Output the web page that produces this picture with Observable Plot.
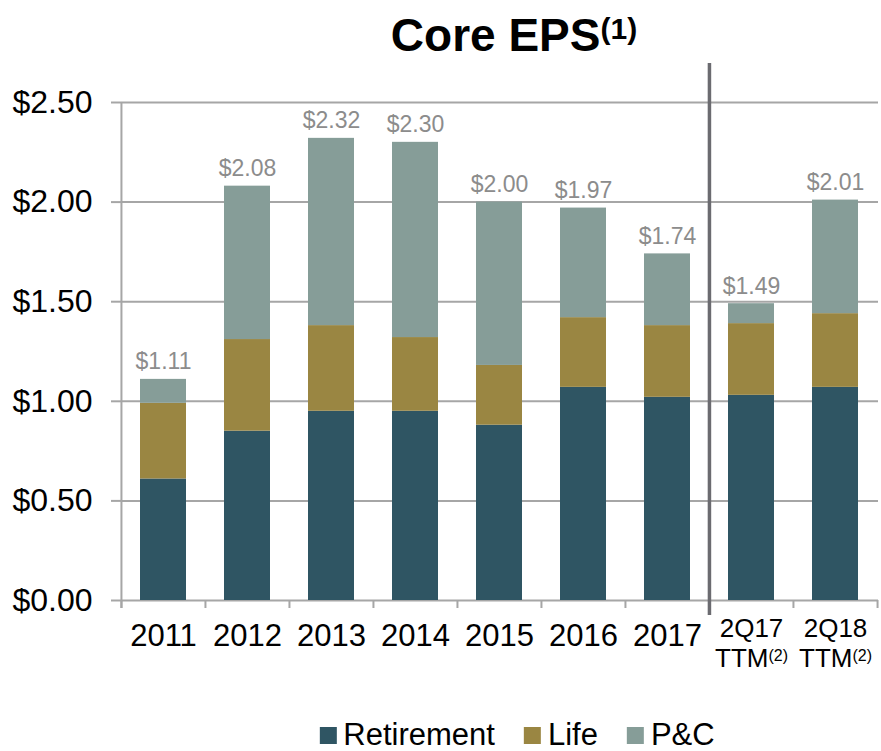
<!DOCTYPE html>
<html><head><meta charset="utf-8">
<script src="https://cdn.jsdelivr.net/npm/d3@7"></script>
<script src="https://cdn.jsdelivr.net/npm/@observablehq/plot@0.6"></script>
<style>
body{margin:0;background:#fff;font-family:"Liberation Sans",Arial,sans-serif;}
#wrap{position:relative;width:881px;height:751px;overflow:hidden;background:#fff;}
#title{position:absolute;top:8px;left:514px;transform:translateX(-50%);white-space:nowrap;font-weight:bold;font-size:46px;line-height:54px;color:#000;}
#title .sup{font-size:30px;vertical-align:12px;line-height:0;}
#chart{position:absolute;top:60px;left:0;}
#legend{position:absolute;top:718px;left:517px;transform:translateX(-50%);display:flex;white-space:nowrap;font-size:31px;line-height:34px;color:#000;}
.item{display:flex;align-items:center;margin:0 14.5px;}
.sw{width:17px;height:17px;margin-right:7px;}
</style></head>
<body>
<div id="wrap">
  <div id="title">Core EPS<span class="sup">(1)</span></div>
  <div id="chart"></div>
  <div id="legend"></div>
</div>
<script>
const categories = ["2011","2012","2013","2014","2015","2016","2017","2Q17 TTM(2)","2Q18 TTM(2)"];
const retirement = [0.61,0.85,0.95,0.95,0.88,1.07,1.02,1.03,1.07];
const life       = [0.38,0.46,0.43,0.37,0.30,0.35,0.36,0.36,0.37];
const pc         = [0.12,0.77,0.94,0.98,0.82,0.55,0.36,0.10,0.57];
const totals     = [1.11,2.08,2.32,2.30,2.00,1.97,1.74,1.49,2.01];
const seriesNames  = ["Retirement","Life","P&C"];
const seriesColors = ["#2F5563","#9A8642","#869D98"];
const yTicks = [0,0.5,1,1.5,2,2.5];
const years = categories.slice(0,7);
const ttm = categories.slice(7);

const seriesValues = [retirement, life, pc];
const rows = categories.flatMap((c,i)=>seriesNames.map((s,j)=>({category:c, series:s, value:seriesValues[j][i]})));
const totalRows = categories.map((c,i)=>({category:c, total:totals[i]}));

const W=881,H=620,mL=121,mR=3,mT=42,mB=80;
const step=(W-mL-mR)/categories.length;
const fmt = d3.format("$.2f");
const axisGray="#A6A6A6";

const chart = Plot.plot({
  width:W,height:H,marginLeft:mL,marginRight:mR,marginTop:mT,marginBottom:mB,
  style:{fontFamily:"'Liberation Sans', Arial, sans-serif",background:"white",overflow:"visible"},
  x:{type:"band",domain:categories,paddingInner:0.45,paddingOuter:0.225,align:0.5},
  y:{domain:[0,2.5]},
  color:{domain:seriesNames,range:seriesColors},
  marks:[
    Plot.gridY(yTicks,{stroke:axisGray,strokeWidth:2,strokeOpacity:1}),
    Plot.barY(rows,{x:"category",y:"value",fill:"series",order:seriesNames}),
    Plot.text(totalRows,{x:"category",y:"total",text:d=>fmt(d.total),dy:-10,lineAnchor:"bottom",fill:"#8C8C8C",fontSize:23}),
    Plot.axisY(yTicks,{tickFormat:fmt,tickSize:10,tickPadding:19,fontSize:32,stroke:axisGray,strokeWidth:2,fill:"#000",label:null}),
    Plot.ruleX([categories[0]],{dx:-step/2,stroke:axisGray,strokeWidth:2,insetBottom:-8}),
    Plot.axisX(categories,{tickSize:8,tickFormat:()=>"",dx:-step/2,stroke:axisGray,strokeWidth:2,label:null}),
    Plot.axisX([categories[categories.length-1]],{tickSize:8,tickFormat:()=>"",dx:step/2,stroke:axisGray,strokeWidth:2,label:null}),
    Plot.axisX(years,{tickSize:0,tickPadding:23,fontSize:31,fill:"#000",label:null}),
    Plot.axisX(ttm,{tickSize:0,tickPadding:16,fontSize:26,lineHeight:1.13,tickFormat:d=>d.replace(" ","\n"),fill:"#000",label:null}),
    Plot.ruleX([categories[7]],{dx:-step/2,stroke:"#6B6B70",strokeWidth:3.5,insetTop:-39,insetBottom:-15})
  ]
});
document.getElementById("chart").appendChild(chart);

// superscript footnote markers in tick labels
chart.querySelectorAll("tspan, text").forEach(el=>{
  if (el.childElementCount===0 && el.textContent.endsWith("TTM(2)")) {
    el.textContent = el.textContent.replace("(2)","");
    const s = document.createElementNS("http://www.w3.org/2000/svg","tspan");
    s.setAttribute("dy","-6");
    s.setAttribute("font-size","16");
    s.textContent="(2)";
    el.appendChild(s);
  }
});

const legend = document.getElementById("legend");
seriesNames.forEach((s,i)=>{
  const item=document.createElement("div");item.className="item";
  const sw=document.createElement("div");sw.className="sw";sw.style.background=seriesColors[i];
  const t=document.createElement("span");t.textContent=s;
  item.appendChild(sw);item.appendChild(t);legend.appendChild(item);
});
</script>
</body></html>
